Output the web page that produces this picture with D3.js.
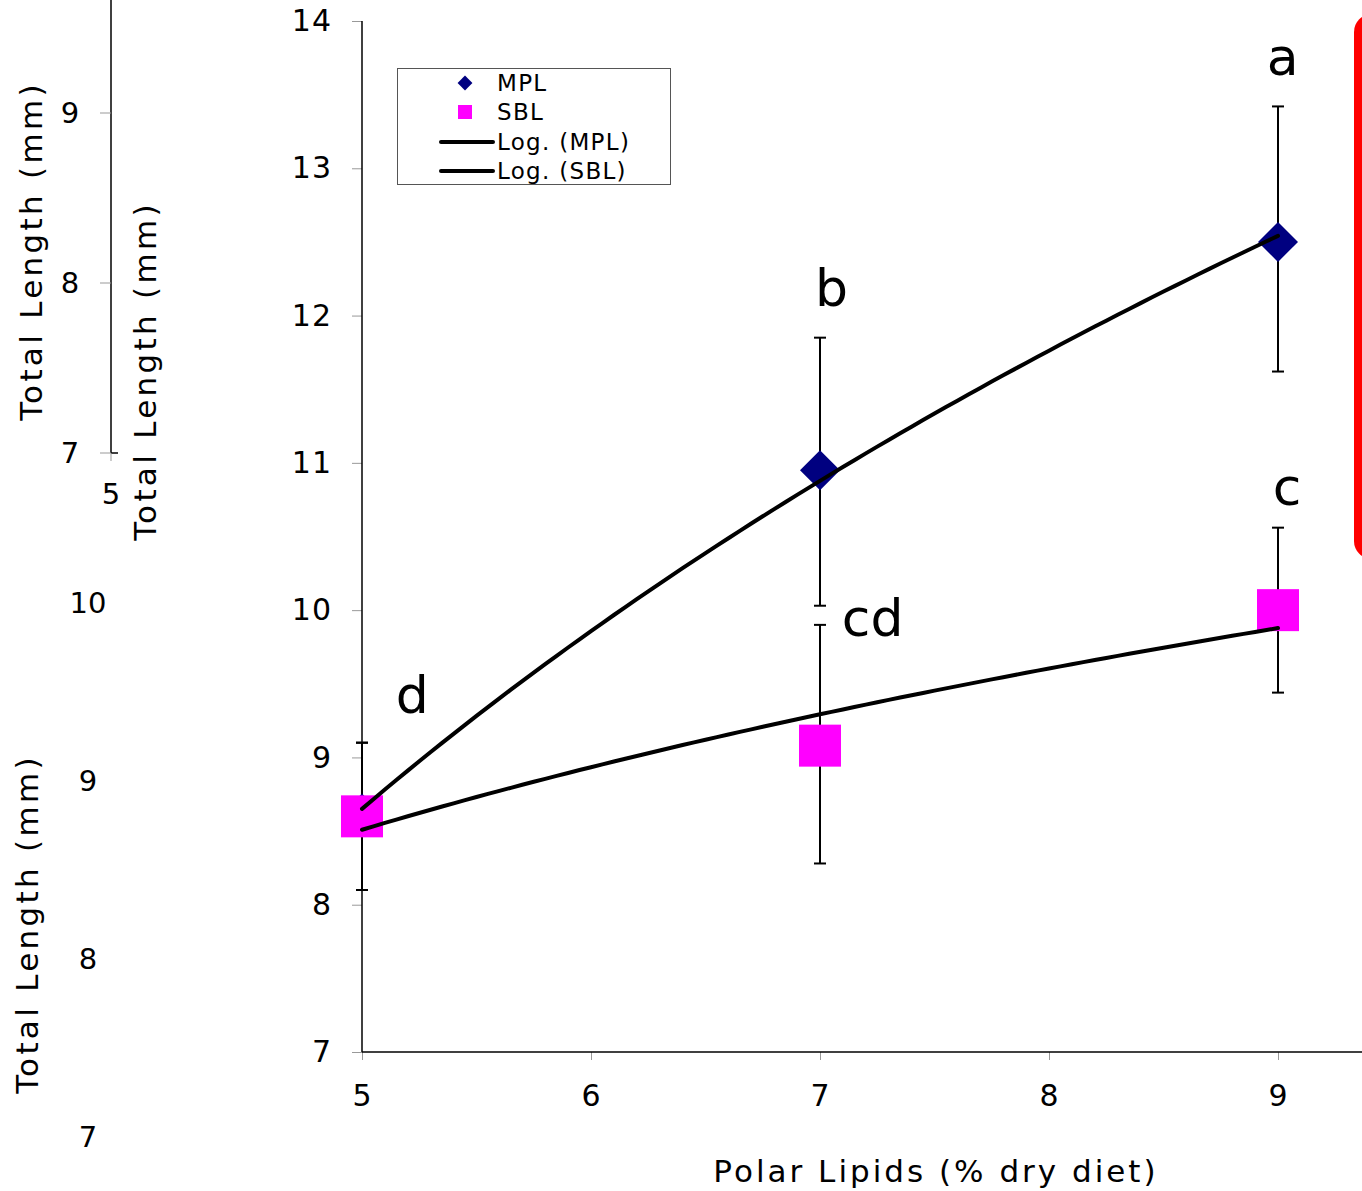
<!DOCTYPE html>
<html>
<head>
<meta charset="utf-8">
<script src="https://cdn.jsdelivr.net/npm/d3@7"></script>
<style>
  body { margin: 0; background: #fff; }
  text { font-family: "DejaVu Sans", Verdana, sans-serif; fill: #000; }
</style>
</head>
<body>
<div id="chart"></div>
<script>
// diet levels and means
const levels = [5, 7, 9];
const mplMean = [8.62, 10.95, 12.5];
const mplLow  = [8.1, 10.03, 11.62];
const mplHigh = [9.1, 11.85, 13.42];
const sblMean = [8.6, 9.08, 10.0];
const sblLow  = [8.1, 8.28, 9.44];
const sblHigh = [9.1, 9.9, 10.56];
const sigLetters = [
  {x: 5.22, y: 9.43, t: "d"},
  {x: 7.05, y: 12.19, t: "b"},
  {x: 7.23, y: 9.95, t: "cd"},
  {x: 9.02, y: 13.76, t: "a"},
  {x: 9.04, y: 10.84, t: "c"}
];
const xTicks = [5, 6, 7, 8, 9];
const yTicks = [7, 8, 9, 10, 11, 12, 13, 14];
// ghost axes from the slides underneath
const ghostTopTicks = [7, 8, 9];
const ghostBottomTicks = [7, 8, 9, 10];

const W = 1362, H = 1191;
const svg = d3.select("#chart").append("svg")
  .attr("width", W).attr("height", H);

// ---------- background leftovers ----------
const gy = d3.scaleLinear().domain([7, 9]).range([453, 113]);
svg.append("line").attr("x1", 111).attr("x2", 111).attr("y1", 0).attr("y2", gy(7))
  .attr("stroke", "#000").attr("stroke-width", 1.5);
svg.append("line").attr("x1", 111).attr("x2", 118).attr("y1", gy(7)).attr("y2", gy(7))
  .attr("stroke", "#000").attr("stroke-width", 1.5);
svg.append("line").attr("x1", 111).attr("x2", 111).attr("y1", gy(7)).attr("y2", gy(7) + 8)
  .attr("stroke", "#999").attr("stroke-width", 1);
svg.selectAll(".gtick").data(ghostTopTicks).enter().append("line")
  .attr("x1", 100).attr("x2", 111)
  .attr("y1", d => gy(d)).attr("y2", d => gy(d))
  .attr("stroke", "#999").attr("stroke-width", 1);
svg.selectAll(".glab").data(ghostTopTicks).enter().append("text")
  .attr("x", 70).attr("y", d => gy(d)).attr("dy", "0.36em")
  .attr("text-anchor", "middle").attr("font-size", 29).text(d => d);
svg.append("text").attr("x", 111).attr("y", 494).attr("dy", "0.36em")
  .attr("text-anchor", "middle").attr("font-size", 29).text("5");

const gy2 = d3.scaleLinear().domain([7, 10]).range([1137, 603]);
svg.selectAll(".glab2").data(ghostBottomTicks).enter().append("text")
  .attr("x", 88).attr("y", d => gy2(d)).attr("dy", "0.36em")
  .attr("text-anchor", "middle").attr("font-size", 29).text(d => d);

function vTitle(x, y) {
  svg.append("text")
    .attr("transform", `translate(${x},${y}) rotate(-90)`)
    .attr("text-anchor", "middle").attr("dy", "0.36em")
    .attr("font-size", 31).attr("letter-spacing", 3.3).text("Total Length (mm)");
}
vTitle(31, 251);
vTitle(145, 371);
vTitle(27, 924);

// red shape at the right edge
svg.append("rect").attr("x", 1354).attr("y", 14).attr("width", 40).attr("height", 545)
  .attr("rx", 18).attr("fill", "#ff0000");

// ---------- main chart ----------
const x = d3.scaleLinear().domain([5, 9]).range([362, 1278]);
const y = d3.scaleLinear().domain([7, 14]).range([1052, 21]);

const xAxis = d3.axisBottom(x).tickValues(xTicks).tickSize(8).tickPadding(14)
  .tickFormat(d3.format("d"));
const yAxis = d3.axisLeft(y).tickValues(yTicks).tickSize(10).tickPadding(20)
  .tickFormat(d3.format("d"));

const xg = svg.append("g").attr("transform", `translate(0,${y(7)})`).call(xAxis);
const yg = svg.append("g").attr("transform", `translate(${x(5)},0)`).call(yAxis);
[xg, yg].forEach(g => {
  g.select(".domain").remove();
  g.selectAll(".tick line").attr("stroke", "#999");
  g.selectAll(".tick text").attr("font-size", 30).attr("letter-spacing", 1).attr("fill", "#000");
});
xg.selectAll(".tick text").attr("dy", "1.05em");
svg.append("line").attr("x1", x(5)).attr("x2", W).attr("y1", y(7)).attr("y2", y(7))
  .attr("stroke", "#000").attr("stroke-width", 1.5);
svg.append("line").attr("x1", x(5)).attr("x2", x(5)).attr("y1", y(14)).attr("y2", y(7))
  .attr("stroke", "#000").attr("stroke-width", 1.5);

svg.append("text").attr("x", 936).attr("y", 1171).attr("dy", "0.36em")
  .attr("text-anchor", "middle").attr("font-size", 31).attr("letter-spacing", 3)
  .text("Polar Lipids (% dry diet)");

// error bars
function errBars(low, high) {
  const g = svg.append("g").attr("stroke", "#000").attr("stroke-width", 2);
  levels.forEach((lv, i) => {
    g.append("line").attr("x1", x(lv)).attr("x2", x(lv))
      .attr("y1", y(low[i])).attr("y2", y(high[i]));
    [low[i], high[i]].forEach(v => {
      g.append("line").attr("x1", x(lv) - 6).attr("x2", x(lv) + 6)
        .attr("y1", y(v)).attr("y2", y(v));
    });
  });
}
errBars(mplLow, mplHigh);
errBars(sblLow, sblHigh);

// markers
const diamond = d3.symbol().type(d3.symbolSquare).size(800);
svg.selectAll(".mpl").data(levels).enter().append("path")
  .attr("d", diamond)
  .attr("transform", (d, i) => `translate(${x(d)},${y(mplMean[i])}) rotate(45)`)
  .attr("fill", "#000080");
svg.selectAll(".sbl").data(levels).enter().append("rect")
  .attr("x", d => x(d) - 21).attr("y", (d, i) => y(sblMean[i]) - 21)
  .attr("width", 42).attr("height", 42).attr("fill", "#ff00ff");

// logarithmic trendlines (least squares on ln x)
function logFit(vals) {
  const lx = levels.map(Math.log);
  const mx = d3.mean(lx), my = d3.mean(vals);
  const a = d3.sum(lx, (v, i) => (v - mx) * (vals[i] - my)) / d3.sum(lx, v => (v - mx) ** 2);
  const b = my - a * mx;
  return xv => a * Math.log(xv) + b;
}
const line = d3.line().x(d => x(d[0])).y(d => y(d[1]));
[mplMean, sblMean].forEach(vals => {
  const f = logFit(vals);
  const pts = d3.range(5, 9.001, 0.05).map(v => [v, f(v)]);
  svg.append("path").attr("d", line(pts)).attr("fill", "none")
    .attr("stroke", "#000").attr("stroke-width", 4).attr("stroke-linecap", "round");
});

// significance letters
svg.selectAll(".sig").data(sigLetters).enter().append("text")
  .attr("x", d => x(d.x)).attr("y", d => y(d.y)).attr("dy", "0.36em")
  .attr("text-anchor", "middle").attr("font-family", "Liberation Sans, Arial, sans-serif")
  .attr("font-size", 52).text(d => d.t);

// legend
const lg = svg.append("g");
lg.append("rect").attr("x", 397.5).attr("y", 68.5).attr("width", 273).attr("height", 116)
  .attr("fill", "#fff").attr("stroke", "#555").attr("stroke-width", 1);
lg.append("path").attr("d", d3.symbol().type(d3.symbolSquare).size(110)())
  .attr("transform", "translate(465,83) rotate(45)").attr("fill", "#000080");
lg.append("rect").attr("x", 458).attr("y", 105).attr("width", 14).attr("height", 14).attr("fill", "#ff00ff");
[142, 171].forEach(yy => {
  lg.append("line").attr("x1", 441).attr("x2", 493).attr("y1", yy).attr("y2", yy)
    .attr("stroke", "#000").attr("stroke-width", 4).attr("stroke-linecap", "round");
});
const legLabels = [["MPL", 83], ["SBL", 112], ["Log. (MPL)", 142], ["Log. (SBL)", 171]];
lg.selectAll(".ll").data(legLabels).enter().append("text")
  .attr("x", 497).attr("y", d => d[1]).attr("dy", "0.36em")
  .attr("font-size", 23).attr("letter-spacing", 1.3).text(d => d[0]);
</script>
</body>
</html>
